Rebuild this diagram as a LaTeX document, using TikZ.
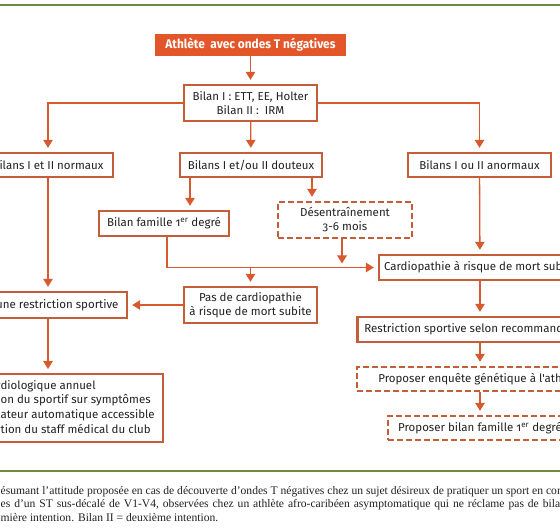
\documentclass[tikz,border=0pt]{standalone}
\usepackage{fontspec}
\setmainfont{Liberation Serif}
\newfontfamily\boxfont[Numbers=OldStyle]{Fira Sans}
\newfontfamily\titlefont[FakeStretch=0.95]{Fira Sans}
\usetikzlibrary{arrows.meta,calc}
\definecolor{boxc}{HTML}{C45E38}
\definecolor{arrc}{HTML}{D65A2E}
\definecolor{titlec}{HTML}{E2562A}
\definecolor{greenc}{HTML}{6D8B3E}
\definecolor{txt}{HTML}{222222}
\tikzset{
  box/.style={draw=boxc, line width=2.4pt, fill=white, text=txt,
    font=\boxfont\fontsize{11.5}{14}\selectfont, inner xsep=5pt, inner ysep=2pt,
    align=center},
  dbox/.style={box, dash pattern=on 6pt off 3pt},
  conn/.style={draw=arrc, line width=1.3pt},
  arr/.style={conn, -{Triangle[width=9.5pt,length=8pt]}, shorten >=4pt},
  rule/.style={draw=greenc, line width=2pt},
  captxt/.style={anchor=base west, inner sep=0pt, text=txt,
    font=\fontsize{11.6}{13}\selectfont},
}
\begin{document}
\begin{tikzpicture}[x=1pt,y=-1pt]
\clip (0,0) rectangle (560,529);
\fill[white] (0,0) rectangle (560,529);
\draw[rule] (0,5) -- (560,5);
\draw[rule] (0,471) -- (560,471);

\node[fill=titlec, text=white, font=\titlefont\bfseries\fontsize{12.5}{14}\selectfont,
  minimum width=191pt, minimum height=22pt, inner sep=0pt] (title) at (250.5,45)
  {Athlète\ \ avec ondes T négatives};
\node[box, minimum width=133pt, minimum height=36pt] (bilan) at (250.5,103)
  {Bilan I : ETT, EE, Holter\\Bilan II :\ \ IRM};
\node[box, minimum width=130pt, minimum height=24pt] (normaux) at (48,165)
  {Bilans I et II normaux};
\node[box, minimum width=142pt, minimum height=24pt] (douteux) at (251,165)
  {Bilans I et/ou II douteux};
\node[box, minimum width=143pt, minimum height=24pt] (anormaux) at (479.5,165)
  {Bilans I ou II anormaux};
\node[box, minimum width=130pt, minimum height=25pt] (famille) at (164,223.5)
  {Bilan famille 1\textsuperscript{er} degré};
\node[dbox, minimum width=134pt, minimum height=36pt] (desentr) at (345,220)
  {Désentraînement\\3-6 mois};
\node[box, minimum width=202pt, minimum height=25pt] (cardio) at (480,267.5)
  {Cardiopathie à risque de mort subite};
\node[box, minimum width=133pt, minimum height=36pt] (pas) at (250.5,305)
  {Pas de cardiopathie\\à risque de mort subite};
\node[box, minimum width=158pt, minimum height=26pt] (aucune) at (48,305)
  {Aucune restriction sportive};
\node[box, minimum width=245pt, minimum height=25pt] (restr) at (480,329.5)
  {Restriction sportive selon recommandations};
\node[dbox, minimum width=246pt, minimum height=24pt] (enq) at (480,379)
  {Proposer enquête génétique à l'athlète};
\node[dbox, minimum width=184pt, minimum height=24pt] (fam2) at (480,428)
  {Proposer bilan famille 1\textsuperscript{er} degré};
\node[box, anchor=north west, minimum height=68pt, inner xsep=6pt,
  font=\boxfont\fontsize{11.5}{14.6}\selectfont] (suivi) at (-6.6,373)
  {\begin{tabular}{@{}l@{\hspace{2.5pt}}}
   \llap{Suivi car}diologique annuel\\
   \llap{Éducati}on du sportif sur symptômes\\
   \llap{Défibrill}ateur automatique accessible\\
   \llap{Informa}tion du staff médical du club
   \end{tabular}};

\draw[arr] (title) -- (bilan);
\draw[arr] (bilan.west) -| (normaux.north);
\draw[arr] (bilan.east) -| (anormaux.north);
\draw[arr] (bilan) -- (douteux);
\draw[arr] ([xshift=-61pt]douteux.south) -- ([xshift=-61pt]douteux.south |- famille.north);
\draw[arr] ([xshift=61pt]douteux.south) -- ([xshift=61pt]douteux.south |- desentr.north);
\draw[arr] ([xshift=3pt]famille.south) |- (cardio.west);
\coordinate (j) at (pas.north |- cardio.west);
\draw[arr] (j) -- (pas.north);
\draw[arr] ([xshift=-3pt]desentr.south) -- ([xshift=-3pt]desentr.south |- cardio.west);
\draw[arr] (anormaux) -- (cardio);
\draw[arr] (cardio) -- (restr);
\draw[arr] (restr) -- (enq);
\draw[arr] (enq) -- (fam2);
\draw[arr] (normaux) -- (aucune);
\draw[arr] (pas) -- (aucune);
\draw[arr] (aucune.south) -- (aucune.south |- suivi.north);

\node[captxt] (c1) at (0.5,494) {ésumant l'attitude proposée en cas de découverte d'ondes T négatives chez un sujet désireux de pratiquer un sport en compétition};
\node[captxt] (c2) at (0.5,507.5) {\spaceskip=3.9pt es d'un ST sus-décalé de V1-V4, observées chez un athlète afro-caribéen asymptomatique qui ne réclame pas de bilan};
\node[captxt] (c3) at (0.5,521) {mière intention. Bilan II = deuxième intention.};
\end{tikzpicture}
\end{document}
